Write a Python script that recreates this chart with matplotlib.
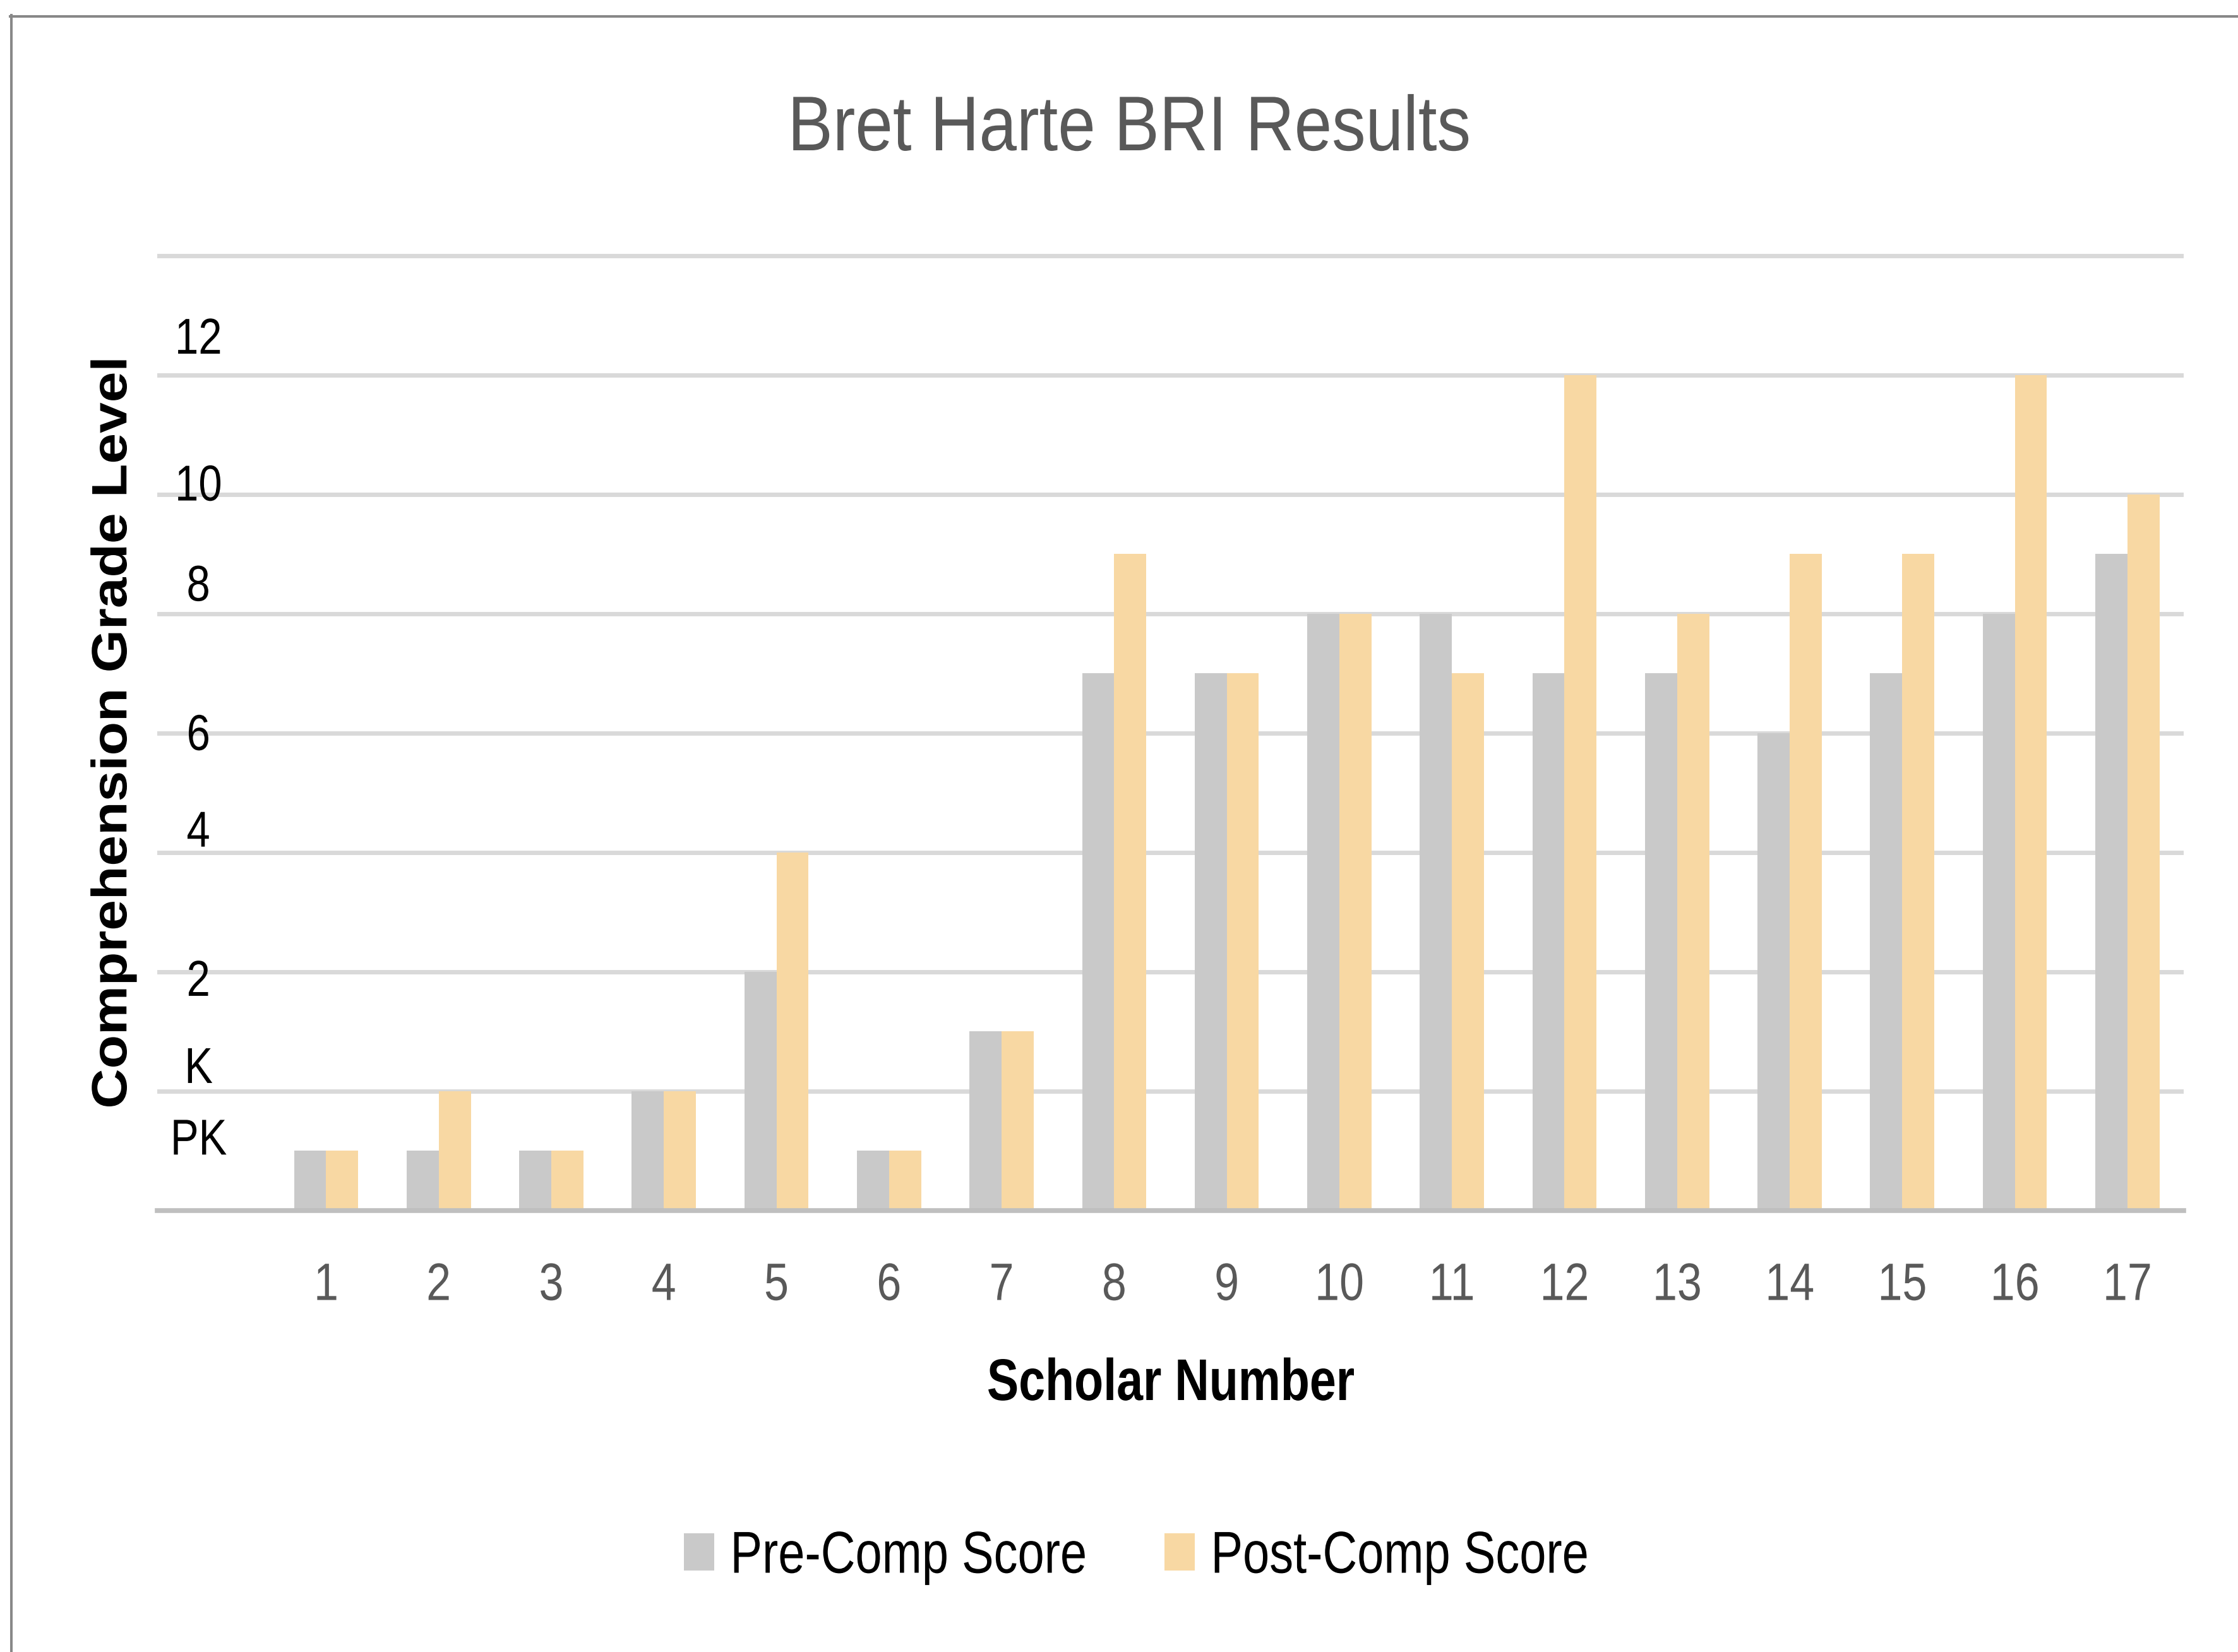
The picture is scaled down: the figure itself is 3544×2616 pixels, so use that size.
import numpy as np
import matplotlib
matplotlib.use("Agg")
import matplotlib.pyplot as plt
from matplotlib.lines import Line2D
from matplotlib.patheffects import AbstractPathEffect
from matplotlib.transforms import Affine2D, blended_transform_factory

# ---------------- data ----------------
scholars = [str(i) for i in range(1, 18)]
pre_comp = [0.5, 0.5, 0.5, 1, 2, 0.5, 1.5, 4.5, 4.5, 5, 5, 4.5, 4.5, 4, 4.5, 5, 5.5]
post_comp = [0.5, 1, 0.5, 1, 3, 0.5, 1.5, 5.5, 4.5, 5, 4.5, 7, 5, 5.5, 5.5, 7, 6]
grade_labels = ["PK", "K", "2", "4", "6", "8", "10", "12"]
grade_label_pos = [0.62, 1.22, 1.95, 3.20, 4.01, 5.26, 6.10, 7.33]
series_names = ["Pre-Comp Score", "Post-Comp Score"]
title = "Bret Harte BRI Results"

FONT = "Liberation Sans"
GRAY = "#C9C9C9"
PEACH = "#F8D8A3"
W, H = 3544, 2616


class Squeeze(AbstractPathEffect):
    """Horizontally condense a text path (the original uses a narrow face)."""

    def __init__(self, sx, anchor="center"):
        super().__init__()
        self.sx = sx
        self.anchor = anchor

    def draw_path(self, renderer, gc, tpath, affine, rgbFace=None):
        ext = tpath.get_extents(affine)
        cx = (ext.x0 + ext.x1) / 2 if self.anchor == "center" else ext.x0
        t = affine + Affine2D().translate(-cx, 0).scale(self.sx, 1).translate(cx, 0)
        renderer.draw_path(gc, tpath, t, rgbFace)


fig = plt.figure(figsize=(W / 100, H / 100), dpi=100)
ax_bottom_px, ax_top_px = 1917, 395.5
ax = fig.add_axes([249 / W, 1 - ax_bottom_px / H, (3458 - 249) / W,
                   (ax_bottom_px - ax_top_px) / H])

x = np.arange(len(scholars))
w = 0.285
ax.bar(x - w / 2, pre_comp, w, color=GRAY, zorder=3, label=series_names[0])
ax.bar(x + w / 2, post_comp, w, color=PEACH, zorder=3, label=series_names[1])

ax.set_xlim(-1.5, len(scholars) - 0.5)
ax.set_ylim(0, 8.05)
ax.set_yticks(range(0, 9))
ax.set_yticklabels([])
ax.tick_params(axis="y", length=0)
ax.yaxis.grid(True, color="#D9D9D9", linewidth=5, zorder=0)
ax.set_axisbelow(True)
for s in ["top", "right", "left"]:
    ax.spines[s].set_visible(False)
ax.spines["bottom"].set_color("#BFBFBF")
ax.spines["bottom"].set_linewidth(5.5)
ax.spines["bottom"].set_zorder(4)

ax.set_xticks(x)
ax.set_xticklabels(scholars, fontfamily=FONT, fontsize=60, color="#595959")
ax.tick_params(axis="x", length=0, pad=58)
for t in ax.get_xticklabels():
    t.set_path_effects([Squeeze(0.84)])

# y-axis grade labels (placed as in the original)
trans = blended_transform_factory(ax.transAxes, ax.transData)
px_per_unit = (ax_bottom_px - ax_top_px) / 8.05
for lab, pos in zip(grade_labels, grade_label_pos):
    ax.text(0.0203, pos - 28.5 / px_per_unit, lab, transform=trans,
            ha="center", va="baseline", fontfamily=FONT, fontsize=57.5,
            color="black", zorder=5, path_effects=[Squeeze(0.84)])

fig.text(0.5045, 1 - 238 / H, title, ha="center", va="baseline",
         fontfamily=FONT, fontsize=88.5, color="#595959",
         path_effects=[Squeeze(0.87)])

xl = ax.set_xlabel("Scholar Number", fontfamily=FONT, fontsize=67,
                   fontweight="bold", color="black")
xl.set_va("baseline")
ax.xaxis.set_label_coords(0.5, -(2217 - ax_bottom_px) / (ax_bottom_px - ax_top_px))
xl.set_path_effects([Squeeze(0.81)])

fig.text(180 / W, 1 - 1160 / H, "Comprehension Grade Level", rotation=90,
         ha="center", va="center", fontfamily=FONT, fontsize=63,
         fontweight="bold", color="black", path_effects=[Squeeze(0.9)])

# legend: texts condensed about their left edge
LEG_FS = 67.4
fs_px = LEG_FS * 100 / 72
leg_kw = dict(loc="center left", bbox_to_anchor=(1083 / W, 1 - 2466 / H), ncol=2,
              frameon=False, prop={"family": FONT, "size": LEG_FS},
              handlelength=48 / fs_px, handleheight=55 / fs_px,
              handletextpad=24 / fs_px, borderpad=0, borderaxespad=0)
leg = fig.legend(columnspacing=1.0, **leg_kw)
fig.canvas.draw()
w1 = leg.get_texts()[0].get_window_extent().width
leg.remove()
colsp_px = (1844 - 1155) - w1
leg = fig.legend(columnspacing=colsp_px / fs_px, **leg_kw)
for t in leg.get_texts():
    t.set_path_effects([Squeeze(0.81, anchor="left")])

# outer border (top and left edges visible)
fig.add_artist(Line2D([16 / W, 1], [1 - 26 / H, 1 - 26 / H],
                      transform=fig.transFigure, color="#888888", linewidth=2.9))
fig.add_artist(Line2D([18 / W, 18 / W], [0, 1 - 24 / H],
                      transform=fig.transFigure, color="#888888", linewidth=2.9))

fig.savefig("out.png", dpi=100, facecolor="white")
